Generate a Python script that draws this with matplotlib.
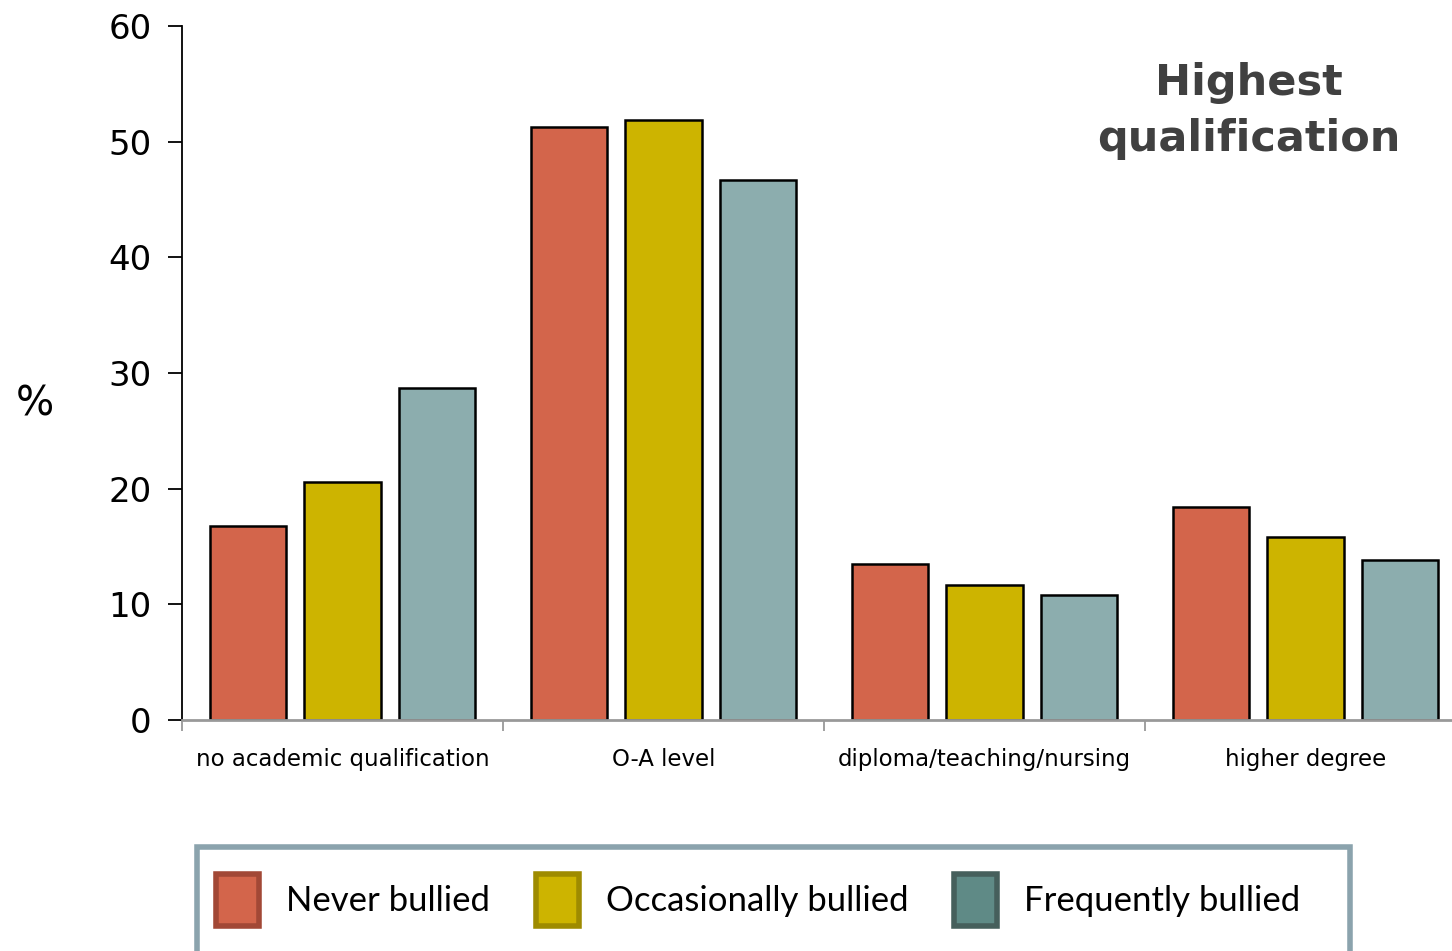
import matplotlib.pyplot as plt
import numpy as np
from matplotlib.patches import Patch, Rectangle

# Share (%) in each qualification group by bullying frequency
categories = ['no academic qualification', 'O-A level', 'diploma/teaching/nursing', 'higher degree']
never = [16.8, 51.3, 13.5, 18.4]
occasionally = [20.6, 51.9, 11.7, 15.8]
frequently = [28.7, 46.7, 10.8, 13.8]

series_labels = ['Never bullied', 'Occasionally bullied', 'Frequently bullied']
bar_colors = ['#D3654B', '#CDB400', '#8CADAE']
legend_faces = ['#D3654B', '#CDB400', '#5F8A86']
legend_edges = ['#A24836', '#9E8B00', '#465F5C']

fig = plt.figure(figsize=(14.52, 9.51), dpi=100)
W, H = 1452, 951
ax = fig.add_axes([182 / W, (H - 720) / H, 1284 / W, 694 / H])

x = np.arange(len(categories)) + 0.5
width = 0.237
step = 0.294
for i, vals in enumerate([never, occasionally, frequently]):
    ax.bar(x + (i - 1) * step, vals, width, color=bar_colors[i],
           edgecolor='black', linewidth=1.8, zorder=2)

ax.set_xlim(0, 4)
ax.set_ylim(0, 60)
ax.set_yticks(range(0, 61, 10))
ax.tick_params(axis='y', labelsize=24.5, length=10, width=1.3, direction='out', pad=12)

ax.set_xticks(x)
ax.set_xticklabels(categories, fontsize=16.5)
ax.tick_params(axis='x', which='major', length=0, pad=20)
ax.set_xticks(np.arange(0, 4), minor=True)
ax.tick_params(axis='x', which='minor', length=8, width=1.3, color='#999999', direction='out')

for side in ['top', 'right']:
    ax.spines[side].set_visible(False)
ax.spines['left'].set_linewidth(1.3)
ax.spines['bottom'].set_color('#999999')
ax.spines['bottom'].set_linewidth(2)

fig.text(35 / W, 1 - 405 / H, '%', fontsize=29, ha='center', va='center')
fig.text(1249 / W, 1 - 111 / H, 'Highest\nqualification', fontsize=31, fontweight='bold',
         color='#404040', ha='center', va='center', linespacing=1.4)

# legend with its own frame running off the bottom edge
frame = Rectangle((197 / W, -0.05), (1350 - 197) / W, (H - 847) / H + 0.05,
                  transform=fig.transFigure, fill=False, edgecolor='#8BA3AD', linewidth=4)
fig.patches.append(frame)

handles = [Patch(facecolor=f, edgecolor=e, linewidth=4, joinstyle='round')
           for f, e in zip(legend_faces, legend_edges)]
fig.legend(handles, series_labels, loc='center left', bbox_to_anchor=(216 / W, 1 - 900 / H),
           ncol=3, frameon=False, borderpad=0, borderaxespad=0,
           prop={'family': 'Lato', 'size': 25},
           handlelength=1.25, handleheight=1.95, handletextpad=0.78, columnspacing=1.3)

fig.savefig('out.png', dpi=100)
